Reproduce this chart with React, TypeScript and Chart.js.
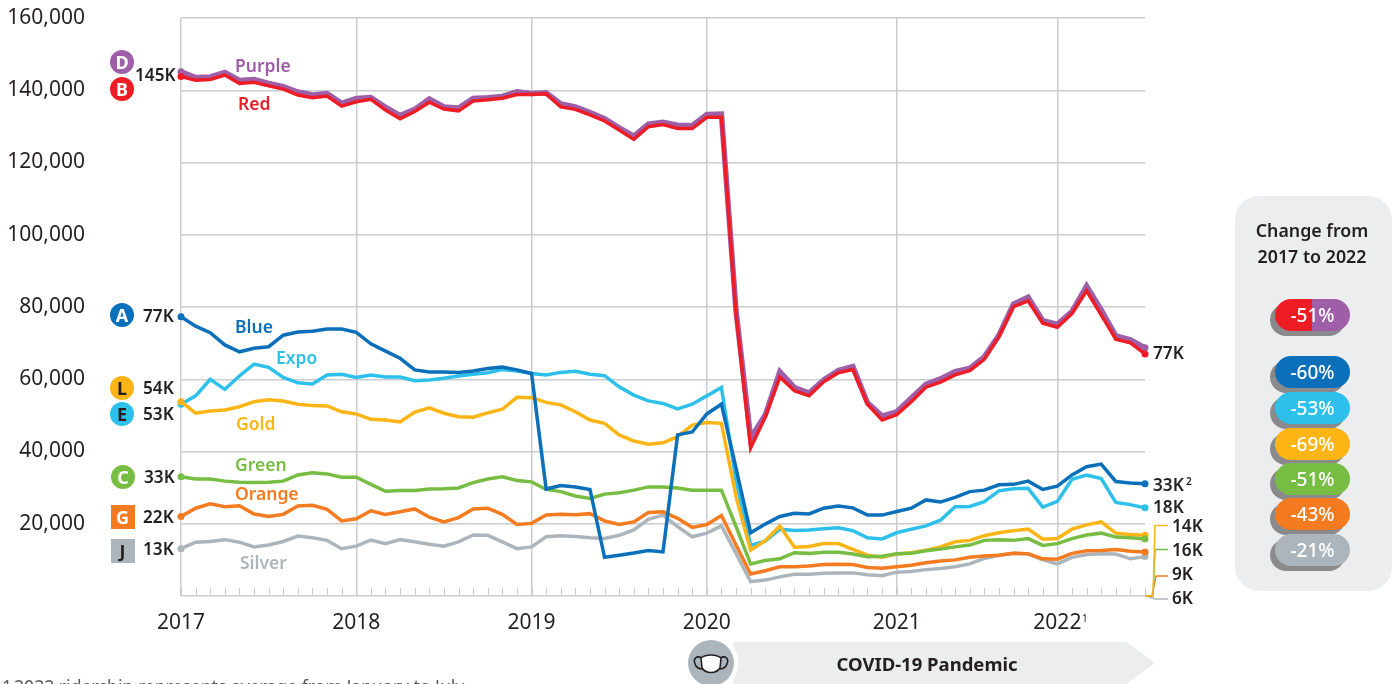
import React, { useEffect, useRef } from "react";
import { Chart, registerables } from "chart.js";

Chart.register(...registerables);

const months: number[] = Array.from({ length: 67 }, (_, i) => i);
const yearTicks: Record<number, string> = { 0: "2017", 12: "2018", 24: "2019", 36: "2020", 49: "2021", 60: "2022" };

const purple = [145.1,143.5,143.7,144.9,142.7,143.0,141.9,141.0,139.5,138.7,139.1,136.4,137.7,138.0,135.3,133.0,134.7,137.6,135.4,135.1,137.7,137.9,138.3,139.6,139.1,139.3,136.2,135.4,133.8,132.1,129.6,127.3,130.6,131.1,130.3,130.2,133.3,133.4,79.0,43.7,50.1,62.1,57.7,56.2,59.8,62.4,63.5,53.5,49.8,51.0,54.8,58.6,60.1,62.1,63.0,66.2,72.2,80.8,82.7,76.2,75.2,78.7,85.8,79.2,72.0,70.9,68.7];
const red = [143.8,142.8,143.0,144.2,141.9,142.2,141.2,140.3,138.7,137.9,138.4,135.6,136.8,137.5,134.5,132.1,134.1,136.7,134.8,134.3,137.0,137.4,137.8,138.8,138.8,139.0,135.4,134.7,133.2,131.5,129.0,126.4,129.9,130.5,129.4,129.4,132.5,132.5,78.0,41.0,49.5,60.6,56.8,55.4,59.3,61.8,62.7,53.1,48.7,50.2,53.8,57.8,59.2,61.2,62.4,65.5,71.8,80.1,81.7,75.5,74.4,78.2,84.5,77.8,71.1,70.1,67.0];
const blue = [77.3,74.7,72.9,69.5,67.6,68.6,69.0,72.2,73.1,73.3,73.9,73.9,73.0,69.8,67.8,65.8,62.6,62.0,62.0,61.9,62.3,63.0,63.4,62.6,61.6,29.6,30.6,30.2,29.5,10.7,11.3,11.9,12.6,12.2,44.6,45.4,50.4,53.1,35.4,17.5,19.9,22.0,22.9,22.7,24.3,24.9,24.4,22.4,22.4,23.4,24.3,26.6,26.0,27.3,28.9,29.3,30.8,30.9,31.8,29.5,30.4,33.5,35.8,36.5,31.7,31.3,31.1];
const expo = [53.1,55.4,60.0,57.2,60.9,64.2,63.3,60.5,59.0,58.7,61.2,61.4,60.5,61.2,60.6,60.6,59.6,59.8,60.3,60.9,61.4,61.8,62.7,62.3,61.6,61.2,61.9,62.2,61.4,61.0,57.9,55.6,54.0,53.3,51.8,53.1,55.4,57.7,32.0,14.0,15.2,18.5,18.1,18.3,18.6,18.9,18.1,16.1,15.8,17.5,18.5,19.4,21.0,24.7,24.8,26.1,29.1,29.7,29.8,24.6,26.2,32.3,33.5,32.5,25.9,25.3,24.4];
const gold = [53.8,50.6,51.2,51.5,52.4,53.8,54.3,54.0,53.1,52.7,52.6,51.0,50.4,48.9,48.7,48.2,50.9,52.1,50.6,49.6,49.5,50.7,51.7,55.0,54.9,53.6,52.9,51.0,48.7,47.8,44.6,42.9,42.0,42.4,44.1,47.3,48.0,47.8,27.5,12.7,15.3,19.4,13.5,13.7,14.5,14.5,12.9,11.3,10.7,11.6,12.0,12.7,13.6,15.0,15.4,16.7,17.5,18.1,18.5,15.7,15.9,18.5,19.7,20.5,17.4,17.0,16.8];
const green = [33.0,32.4,32.4,31.8,31.5,31.4,31.5,31.8,33.5,34.1,33.8,32.9,32.9,30.9,29.0,29.2,29.2,29.6,29.7,29.9,31.4,32.4,33.0,32.0,31.6,29.5,28.9,27.7,27.0,28.2,28.6,29.3,30.2,30.2,29.9,29.3,29.3,29.3,19.2,8.9,9.8,10.3,12.0,11.8,12.1,12.1,11.6,10.9,11.0,11.7,11.8,12.5,13.0,13.6,14.1,15.4,15.6,15.4,15.9,14.0,14.5,15.9,16.9,17.4,16.3,16.1,15.8];
const orange = [22.0,24.3,25.5,24.7,25.0,22.7,22.0,22.6,24.9,25.1,24.0,20.8,21.4,23.6,22.6,23.3,24.1,21.8,20.5,21.7,24.1,24.3,22.6,19.8,20.1,22.4,22.6,22.5,22.8,20.8,19.8,20.5,23.1,23.3,21.5,19.0,19.8,22.3,14.1,6.1,7.0,8.1,8.1,8.3,8.7,8.8,8.7,7.9,7.7,8.1,8.5,9.2,9.7,10.0,10.7,11.1,11.3,11.8,11.7,10.3,10.2,11.8,12.5,12.6,12.9,12.4,12.2];
const silver = [13.1,14.9,15.1,15.6,14.9,13.6,14.1,15.1,16.6,16.1,15.4,13.1,13.8,15.5,14.5,15.6,15.0,14.3,13.8,15.0,16.9,16.8,15.0,13.1,13.6,16.4,16.7,16.5,16.1,15.9,16.8,18.3,21.2,22.4,19.2,16.4,17.4,19.4,11.8,4.0,4.4,5.3,6.0,6.0,6.3,6.4,6.4,5.9,5.6,6.6,6.8,7.3,7.6,8.1,8.9,10.4,11.3,11.8,11.6,10.0,8.9,10.7,11.5,11.7,11.6,10.3,10.9];

const C = {
  purple: "#9e5fa8", red: "#ee1c25", blue: "#0b70b9", expo: "#2dc0eb", gold: "#fdb515",
  green: "#78bd43", orange: "#f47b20", silver: "#adb5bc", ink: "#231f20", grid: "#cbccce", panel: "#ecedef",
};
const FONT = '"Noto Sans", sans-serif';

// drawn first-listed on top
const seriesList: [string, number[], string, number][] = [
  ["Red", red, C.red, 3.5],
  ["Purple", purple, C.purple, 5.5],
  ["Blue", blue, C.blue, 3.5],
  ["Green", green, C.green, 3.5],
  ["Gold", gold, C.gold, 3.5],
  ["Expo", expo, C.expo, 3.5],
  ["Orange", orange, C.orange, 3.5],
  ["Silver", silver, C.silver, 3.5],
];

const seriesNames: [string, string, number, number][] = [
  ["Purple", C.purple, 235, 66], ["Red", C.red, 238, 104], ["Blue", C.blue, 235, 327], ["Expo", C.expo, 276, 358],
  ["Gold", C.gold, 236, 424], ["Green", C.green, 235, 465], ["Orange", C.orange, 235, 494], ["Silver", C.silver, 240, 563],
];
const startLabels: [string, number, number][] = [
  ["145K", 135, 75], ["77K", 143, 316], ["54K", 143, 388], ["53K", 143, 414], ["33K", 144, 477], ["22K", 143, 517], ["13K", 143, 549],
];
const endLabels: [string, number, number][] = [
  ["77K", 1153, 353], ["33K", 1153, 485], ["18K", 1153, 507], ["14K", 1172, 526], ["16K", 1172, 550], ["9K", 1172, 574], ["6K", 1172, 598],
];
const badges: [string, string, string, number, number, boolean][] = [
  ["D", C.purple, "#fff", 122, 62, true], ["B", C.red, "#fff", 122, 89, true], ["A", C.blue, "#fff", 122, 315, true],
  ["L", C.gold, C.ink, 122, 388, true], ["E", C.expo, C.ink, 122, 414, true], ["C", C.green, "#fff", 123, 477, true],
  ["G", C.orange, "#fff", 122.5, 516.5, false], ["J", C.silver, C.ink, 122.5, 550.5, false],
];
const changeLabels: [string, string, number][] = [
  ["-60%", C.blue, 356], ["-53%", C.expo, 392], ["-69%", C.gold, 428], ["-51%", C.green, 463], ["-43%", C.orange, 498], ["-21%", C.silver, 534],
];

const T = ({ x, y, s, c = C.ink, w = 400, children, center }: any) => (
  <span style={{ position: "absolute", left: x, top: y, transform: center ? "translate(-50%,-50%)" : "translateY(-50%)", fontFamily: FONT, fontSize: s, fontWeight: w, color: c, lineHeight: 1, whiteSpace: "nowrap" }}>{children}</span>
);

const leaderPlugin = {
  id: "leaders",
  beforeDatasetsDraw(chart: any) {
    const { ctx, scales } = chart;
    const xs = scales.x, ys = scales.y;
    ctx.save();
    // minor month ticks rising from the baseline
    ctx.strokeStyle = C.grid;
    ctx.lineWidth = 1;
    const base = ys.getPixelForValue(0);
    months.forEach((m) => {
      const px = Math.round(xs.getPixelForValue(m)) + 0.5;
      ctx.beginPath();
      ctx.moveTo(px, base);
      ctx.lineTo(px, base - 8);
      ctx.stroke();
    });
    // elbow leaders from the last point of each low series to its label
    const last = xs.getPixelForValue(66);
    const leader = (vals: number[], color: string, mx: number, ex: number, ey: number) => {
      const py = ys.getPixelForValue(vals[66]);
      ctx.strokeStyle = color;
      ctx.lineWidth = 1.5;
      ctx.beginPath();
      ctx.moveTo(last, py);
      ctx.lineTo(mx, py);
      ctx.lineTo(ex, ey);
      ctx.lineTo(1168, ey);
      ctx.stroke();
    };
    leader(silver, C.silver, 1147, 1155, 599);
    leader(orange, C.orange, 1152, 1156, 576);
    leader(green, C.green, 1153, 1155, 549.5);
    leader(gold, C.gold, 1153, 1155, 525.5);
    ctx.restore();
  },
};

export default function App() {
  const ref = useRef<HTMLCanvasElement>(null);
  useEffect(() => {
    const chart = new Chart(ref.current!, {
      type: "line",
      data: {
        labels: months,
        datasets: seriesList.map(([label, vals, color, width]) => ({
          label,
          data: vals.map((v) => v * 1000),
          borderColor: color,
          backgroundColor: color,
          borderWidth: width,
          borderJoinStyle: "miter",
          tension: 0,
          clip: false,
          pointRadius: (ctx: any) => (ctx.dataIndex === 0 || ctx.dataIndex === 66 ? 3.5 : 0),
          pointBorderWidth: 0,
          pointHoverRadius: 0,
        })),
      },
      options: {
        responsive: false,
        animation: false,
        layout: { padding: { top: 18, right: 248, left: 0, bottom: 0 } },
        plugins: { legend: { display: false }, tooltip: { enabled: false } },
        scales: {
          x: {
            type: "category",
            afterFit: (s: any) => { s.height = 88; s.paddingLeft = 0; s.paddingRight = 0; },
            border: { display: false },
            grid: {
              drawTicks: false,
              lineWidth: 1.5,
              color: (ctx: any) => (yearTicks[ctx.index] ? C.grid : "rgba(0,0,0,0)"),
            },
            ticks: {
              autoSkip: false,
              maxRotation: 0,
              padding: 14,
              color: C.ink,
              font: { family: FONT, size: 21 },
              callback: (_v: any, i: number) => yearTicks[i] ?? "",
            },
          },
          y: {
            min: 0,
            max: 160000,
            afterFit: (s: any) => { s.width = 181; s.paddingTop = 0; s.paddingBottom = 0; },
            border: { display: false },
            grid: { drawTicks: false, lineWidth: 1.5, color: C.grid },
            ticks: {
              stepSize: 20000,
              padding: 96,
              color: C.ink,
              font: { family: FONT, size: 21 },
              callback: (v: any) => (v === 0 ? "" : Number(v).toLocaleString("en-US")),
            },
          },
        },
      },
      plugins: [leaderPlugin],
    } as any);
    return () => chart.destroy();
  }, []);

  return (
    <div style={{ position: "fixed", left: 0, top: 0, width: 1393, height: 684, overflow: "hidden", background: "#fff" }}>
      <canvas ref={ref} width={1393} height={684} style={{ position: "absolute", left: 0, top: 0, display: "block" }} />

      {badges.map(([l, bg, fg, x, y, round]) => (
        <div key={l} style={{ position: "absolute", left: x - 12, top: y - 12, width: 24, height: 24, borderRadius: round ? 12 : 0, background: bg, color: fg, fontFamily: FONT, fontWeight: 700, fontSize: 18, lineHeight: "24px", textAlign: "center" }}>{l}</div>
      ))}
      {startLabels.map(([s, x, y]) => <T key={s + y} x={x} y={y} s={17.2} w={600}>{s}</T>)}
      {seriesNames.map(([s, c, x, y]) => <T key={s} x={x} y={y} s={17.5} w={600} c={c}>{s}</T>)}
      {endLabels.map(([s, x, y]) => <T key={s + y} x={x} y={y} s={17.2} w={600}>{s}</T>)}
      <T x={1186} y={481} s={10} w={600}>2</T>
      <T x={1082} y={618} s={10}>1</T>

      <T x={2} y={687} s={17.6} c="#58595b">1</T>
      <T x={14} y={687} s={17.6} c="#58595b">2022 ridership represents average from January to July</T>

      <svg width={1393} height={684} style={{ position: "absolute", left: 0, top: 0, pointerEvents: "none" }}>
        <polygon points="733,642 1127,642 1155,663 1127,684 733,684" fill={C.panel} />
        <circle cx={711} cy={663} r={27.5} fill="#fff" />
        <circle cx={711} cy={663} r={23} fill={C.silver} />
        <g stroke={C.ink} strokeWidth={1.6} fill="#fff">
          <path d="M702 658 C696 655 693 659 695 664 C696 667 699 669 703 669" fill="none" />
          <path d="M720 658 C726 655 729 659 727 664 C726 667 723 669 719 669" fill="none" />
          <path d="M701 658 C706 654 716 654 721 658 L720 668 C716 674 706 674 702 668 Z" />
        </g>
      </svg>
      <T x={927} y={664} s={18.5} w={700} center>COVID-19 Pandemic</T>

      <div style={{ position: "absolute", left: 1235, top: 196, width: 157, height: 395, borderRadius: 24, background: C.panel }} />
      <T x={1312} y={231} s={17.8} w={600} center>Change from</T>
      <T x={1312} y={257} s={17.8} w={600} center>2017 to 2022</T>

      <div style={{ position: "absolute", left: 1270, top: 304, width: 75, height: 32, borderRadius: 16, background: "#8a8a8c" }} />
      <div style={{ position: "absolute", left: 1275, top: 299, width: 75, height: 32, borderRadius: 16, background: `linear-gradient(to right, ${C.red} 50%, ${C.purple} 50%)` }} />
      <T x={1312.5} y={315} s={19} w={500} c="#fff" center>-51%</T>
      {changeLabels.map(([s, c, y]) => (
        <React.Fragment key={s + y}>
          <div style={{ position: "absolute", left: 1270, top: y + 5, width: 75, height: 32, borderRadius: 16, background: "#8a8a8c" }} />
          <div style={{ position: "absolute", left: 1275, top: y, width: 75, height: 32, borderRadius: 16, background: c }} />
          <T x={1312.5} y={y + 16} s={19} w={500} c="#fff" center>{s}</T>
        </React.Fragment>
      ))}
    </div>
  );
}
